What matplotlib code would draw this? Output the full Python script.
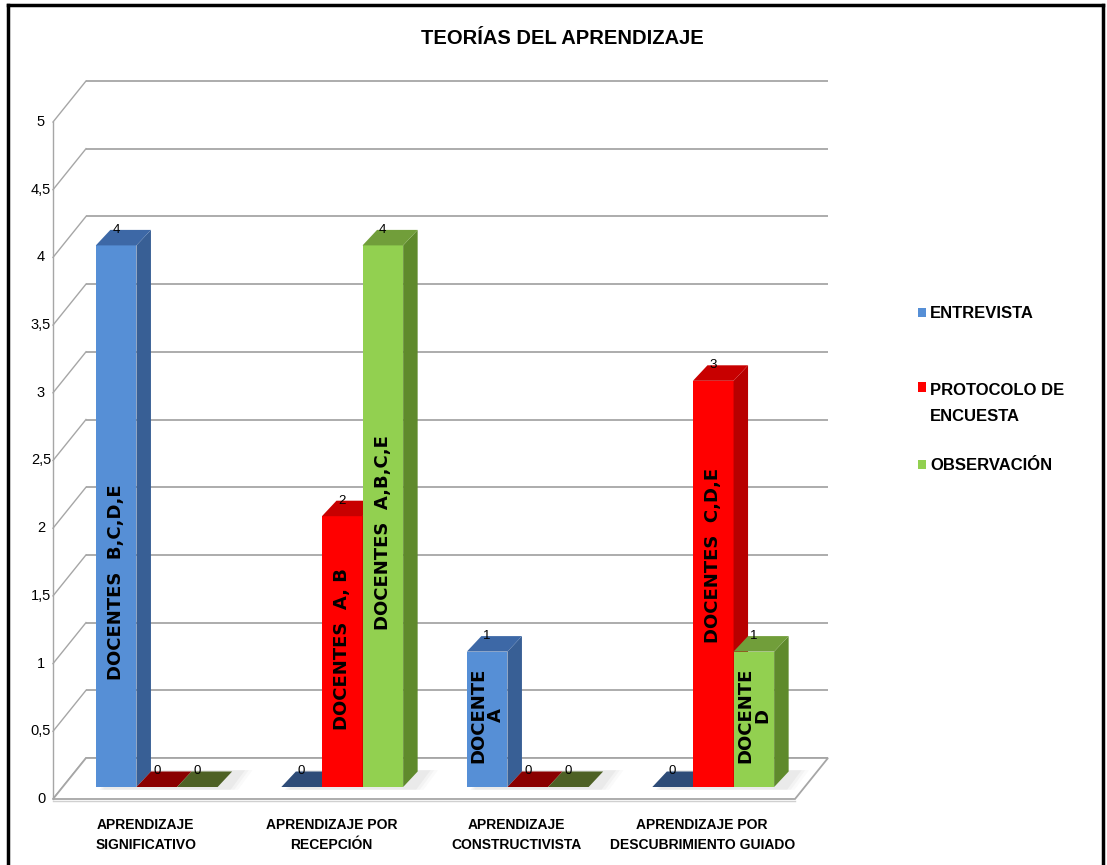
import matplotlib
matplotlib.use("Agg")
import matplotlib.pyplot as plt
from matplotlib.patches import Polygon, Rectangle
from matplotlib.lines import Line2D
from matplotlib import font_manager

# ---------------- data ----------------
title = "TEORÍAS DEL APRENDIZAJE"
categories = ["APRENDIZAJE\nSIGNIFICATIVO", "APRENDIZAJE POR\nRECEPCIÓN",
              "APRENDIZAJE\nCONSTRUCTIVISTA", "APRENDIZAJE POR\nDESCUBRIMIENTO GUIADO"]
series_names = ["ENTREVISTA", "PROTOCOLO DE\nENCUESTA", "OBSERVACIÓN"]
entrevista = [4, 0, 1, 0]
protocolo = [0, 2, 0, 3]
observacion = [0, 4, 0, 1]
series_values = [entrevista, protocolo, observacion]
yticks = [0, 0.5, 1, 1.5, 2, 2.5, 3, 3.5, 4, 4.5, 5]
ytick_labels = ["0", "0,5", "1", "1,5", "2", "2,5", "3", "3,5", "4", "4,5", "5"]
# text written inside bars: (series, category, text, height of text centre)
inner_texts = [
    (0, 0, "DOCENTES  B,C,D,E", 1.51),
    (0, 2, "DOCENTE\nA", 0.53),
    (1, 1, "DOCENTES  A, B", 1.02),
    (1, 3, "DOCENTES  C,D,E", 1.71),
    (2, 1, "DOCENTES  A,B,C,E", 1.88),
    (2, 3, "DOCENTE\nD", 0.53),
]

# ---------------- style ----------------
front_cols = ["#568FD6", "#FF0000", "#92D050"]
side_cols = ["#385F95", "#B80000", "#5F8A2C"]
top_cols = ["#3D68A6", "#C80000", "#719E3A"]
flat_cols = ["#2E4C78", "#8A0000", "#4E6125"]
grid_col = "#A6A6A6"

avail = {f.name for f in font_manager.fontManager.ttflist}
narrow = "Liberation Sans Narrow" if "Liberation Sans Narrow" in avail else "Liberation Sans"
FAM = [narrow, "DejaVu Sans"]

W, H = 1107, 865
fig = plt.figure(figsize=(W / 100, H / 100), dpi=100)
ax = fig.add_axes([0, 0, 1, 1])

# pixel geometry of the front plane
PXX = 185.5       # px per category
PXY = 135.4       # px per unit value
X0PX, Y0PX = 53, 799

DXW, DYW = 33 / PXX, 41 / PXY        # depth of the whole plot (back wall)
DXB, DYB = 11 / PXX, 12 / PXY        # bar base offset behind front
DXD, DYD = 14.5 / PXX, 15.5 / PXY    # bar depth
BW = 40.6 / PXX                      # bar width
n = len(categories)
xl, xr = -0.5, n - 0.5
ymax = yticks[-1]

# back wall gridlines + side wall diagonals
for v in yticks:
    ax.plot([xl + DXW, xr + DXW], [v + DYW, v + DYW], color=grid_col, lw=1.3, zorder=1,
            solid_capstyle="butt")
    ax.plot([xl, xl + DXW], [v, v + DYW], color=grid_col, lw=1.0, zorder=1)
ax.plot([xl, xl], [0, ymax], color=grid_col, lw=1.0, zorder=1)

# floor
floor = Polygon([[xl, 0], [xr, 0], [xr + DXW, DYW], [xl + DXW, DYW]], closed=True,
                facecolor="white", edgecolor=grid_col, lw=1.3, zorder=1.5)
ax.add_patch(floor)
ax.plot([xl, xr], [-0.012, -0.012], color="#D0D0D0", lw=1.0, zorder=1.4)

# soft shadows on floor
for i in range(n):
    gx = i - 1.5 * BW + DXB
    for k, a in enumerate([0.07, 0.05, 0.04]):
        sh = Polygon([[gx + 0.02 + k * 0.01, DYB - 0.02],
                      [gx + 3 * BW + 0.07 + k * 0.02, DYB - 0.02],
                      [gx + 3 * BW + 0.07 + DXD + k * 0.02, DYB + DYD + 0.01],
                      [gx + 0.02 + DXD, DYB + DYD + 0.01]],
                     closed=True, facecolor="#808080", edgecolor="none", alpha=a, zorder=1.6)
        ax.add_patch(sh)

# bars (pseudo 3-D)
for i in range(n):
    for j, vals in enumerate(series_values):
        v = vals[i]
        x0 = i - 1.5 * BW + j * BW + DXB
        x1 = x0 + BW
        yb = DYB
        yt = yb + v
        z = 3 + i * 0.1 + j * 0.01
        if v > 0:
            ax.add_patch(Rectangle((x0, yb), BW, v, facecolor=front_cols[j], edgecolor="none", zorder=z))
            ax.add_patch(Polygon([[x1, yb], [x1 + DXD, yb + DYD], [x1 + DXD, yt + DYD], [x1, yt]],
                                 closed=True, facecolor=side_cols[j], edgecolor="none", zorder=z))
            ax.add_patch(Polygon([[x0, yt], [x1, yt], [x1 + DXD, yt + DYD], [x0 + DXD, yt + DYD]],
                                 closed=True, facecolor=top_cols[j], edgecolor="none", zorder=z))
        else:
            ax.add_patch(Polygon([[x0, yb], [x1, yb], [x1 + DXD, yb + DYD], [x0 + DXD, yb + DYD]],
                                 closed=True, facecolor=flat_cols[j], edgecolor="none", zorder=z))
        ax.text(x0 + BW / 2, yt + DYD, f"{v:g}", ha="center", va="center",
                fontsize=9.5, family=FAM, color="black", zorder=10)

# texts inside bars
for j, i, txt, yc in inner_texts:
    x0 = i - 1.5 * BW + j * BW + DXB
    ax.text(x0 + BW / 2, DYB + yc, txt, rotation=90, ha="center", va="center",
            multialignment="center", fontsize=13, fontweight="bold", family="DejaVu Sans",
            color="black", zorder=11, linespacing=0.95)

# y tick labels
for v, lab in zip(yticks, ytick_labels):
    ax.text(xl - 12 / PXX, v, lab, ha="center", va="center", fontsize=10.5,
            family=FAM, color="black")

# category labels
for i, lab in enumerate(categories):
    ax.text(i, -0.265, lab, ha="center", va="center", fontsize=10, fontweight="bold",
            family=FAM, color="black", linespacing=1.6)

ax.set_xlim((0 - X0PX) / PXX - 0.5, (W - X0PX) / PXX - 0.5)
ax.set_ylim((Y0PX - H) / PXY, Y0PX / PXY)
ax.axis("off")

# title
fig.text(562 / W, 1 - 39 / H, title, ha="center", va="center", fontsize=14.5,
         fontweight="bold", family=FAM)

# legend
LINE_PX = 28
leg_items = [(series_names[0], 312), (series_names[1], 387), (series_names[2], 464)]
for j, (name, ypx) in enumerate(leg_items):
    fig.patches.append(Rectangle((918 / W, 1 - (ypx + 4.5) / H), 8 / W, 9 / H,
                                 transform=fig.transFigure, facecolor=front_cols[j],
                                 edgecolor="none"))
    nl = name.count("\n")
    fig.text(930 / W, 1 - (ypx + 6 + LINE_PX * nl) / H, name, ha="left", va="baseline",
             fontsize=12, fontweight="bold", family=FAM, linespacing=1.95)

# outer frame
fig.add_artist(Line2D([8 / W, 8 / W], [0, 1 - 5 / H], transform=fig.transFigure, color="black", lw=2.5))
fig.add_artist(Line2D([8 / W, 1103 / W], [1 - 5 / H, 1 - 5 / H], transform=fig.transFigure, color="black", lw=2.5))
fig.add_artist(Line2D([1103 / W, 1103 / W], [0, 1 - 5 / H], transform=fig.transFigure, color="black", lw=2.5))

fig.savefig("out.png", dpi=100, facecolor="white")
